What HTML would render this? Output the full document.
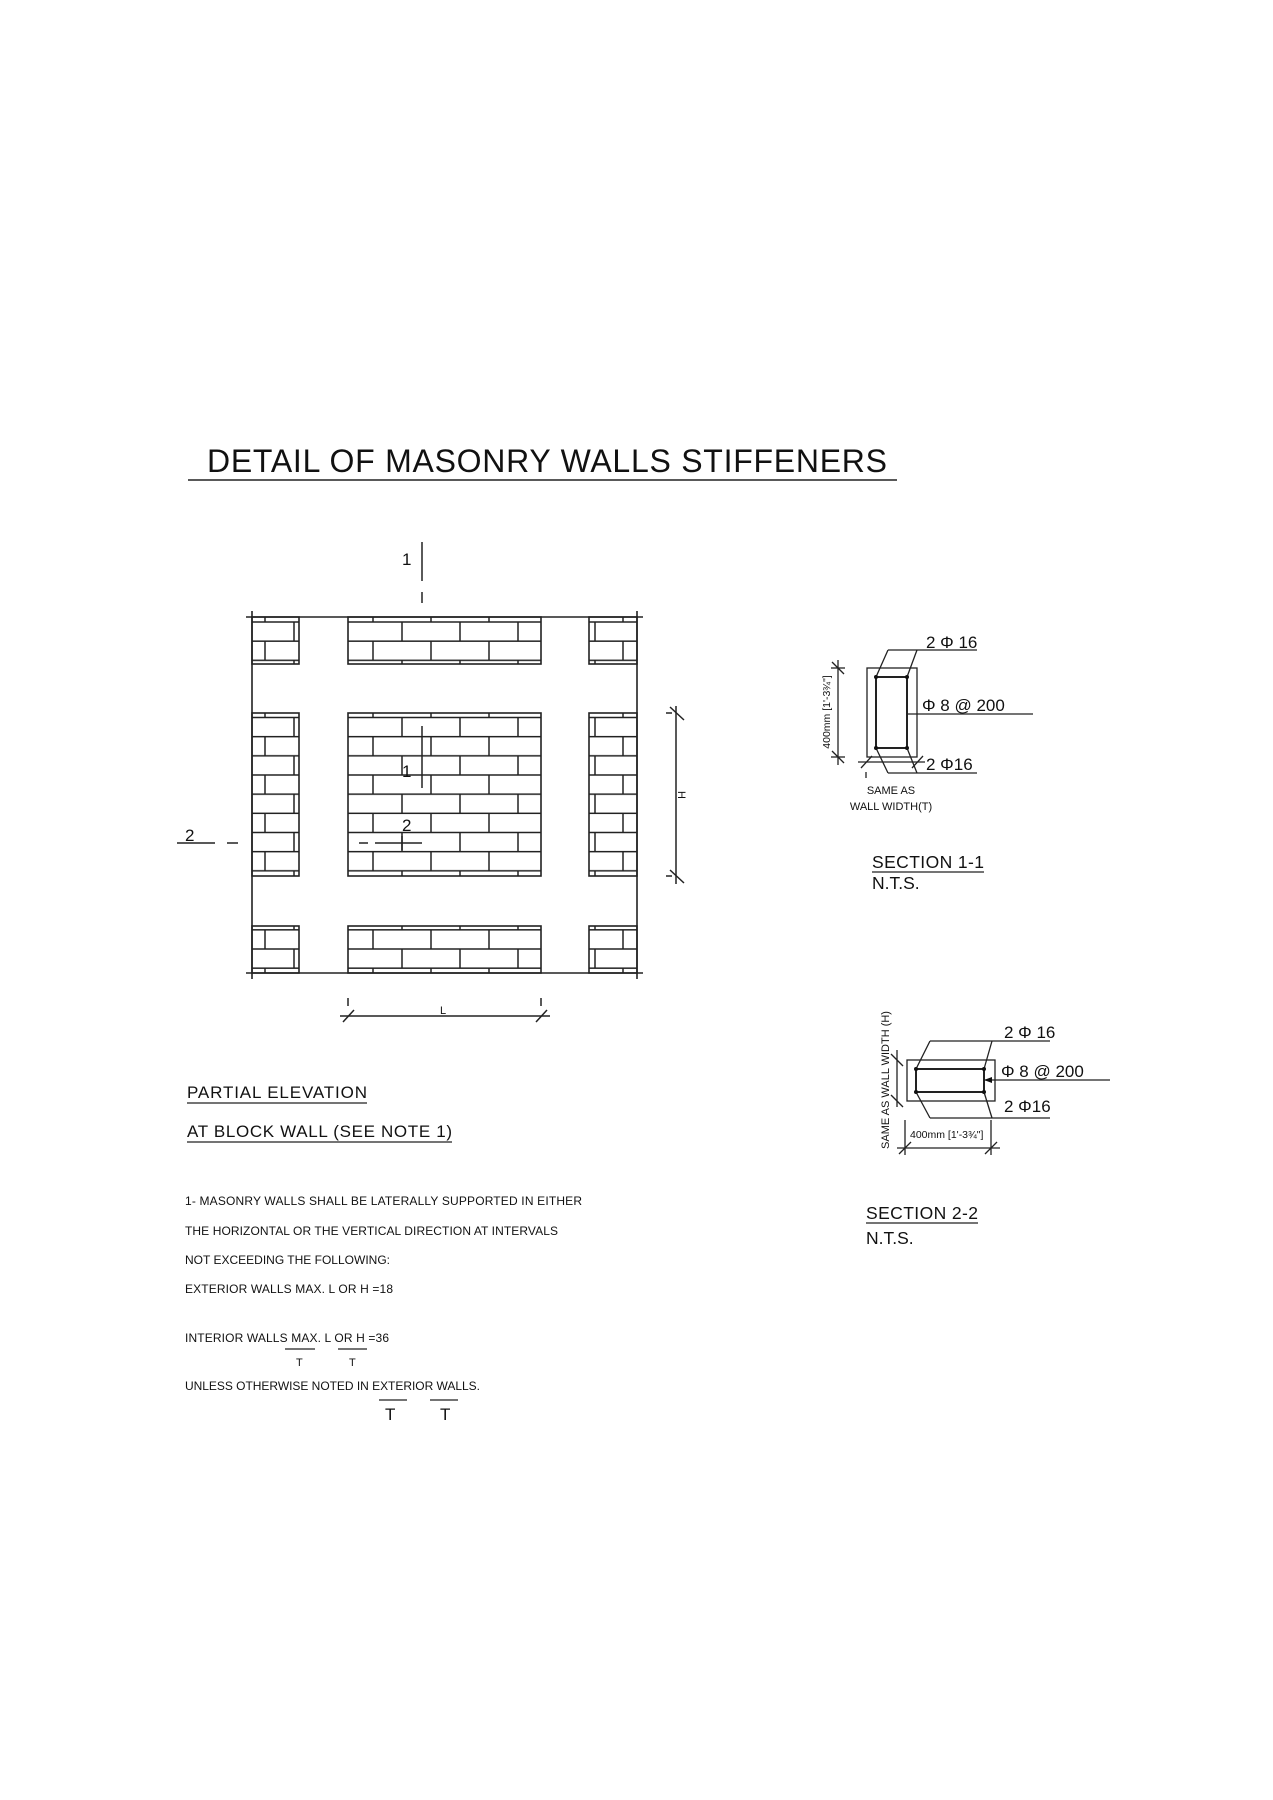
<!DOCTYPE html>
<html><head><meta charset="utf-8"><style>html,body{margin:0;padding:0;background:#fff}svg{display:block}</style></head>
<body>
<svg width="1273" height="1800" viewBox="0 0 1273 1800" xmlns="http://www.w3.org/2000/svg" font-family="Liberation Sans, sans-serif" fill="#111">
<defs>
<pattern id="cT" patternUnits="userSpaceOnUse" x="344" y="622" width="58" height="38.33">
 <g stroke="#222" stroke-width="1.5"><line x1="0" y1="0" x2="58" y2="0"/><line x1="0" y1="38.33" x2="58" y2="38.33"/><line x1="0" y1="19.17" x2="58" y2="19.17"/><line x1="0" y1="0" x2="0" y2="19.17"/><line x1="58" y1="0" x2="58" y2="19.17"/><line x1="29" y1="19.17" x2="29" y2="38.33"/></g></pattern>
<pattern id="cM" patternUnits="userSpaceOnUse" x="344" y="717.5" width="58" height="38.33">
 <g stroke="#222" stroke-width="1.5"><line x1="0" y1="0" x2="58" y2="0"/><line x1="0" y1="38.33" x2="58" y2="38.33"/><line x1="0" y1="19.17" x2="58" y2="19.17"/><line x1="0" y1="0" x2="0" y2="19.17"/><line x1="58" y1="0" x2="58" y2="19.17"/><line x1="29" y1="19.17" x2="29" y2="38.33"/></g></pattern>
<pattern id="cB" patternUnits="userSpaceOnUse" x="344" y="949" width="58" height="38.33">
 <g stroke="#222" stroke-width="1.5"><line x1="0" y1="0" x2="58" y2="0"/><line x1="0" y1="38.33" x2="58" y2="38.33"/><line x1="0" y1="19.17" x2="58" y2="19.17"/><line x1="0" y1="0" x2="0" y2="19.17"/><line x1="58" y1="0" x2="58" y2="19.17"/><line x1="29" y1="19.17" x2="29" y2="38.33"/></g></pattern>
<pattern id="sT" patternUnits="userSpaceOnUse" x="0" y="622" width="1273" height="38.33">
 <g stroke="#222" stroke-width="1.5"><line x1="0" y1="0" x2="1273" y2="0"/><line x1="0" y1="38.33" x2="1273" y2="38.33"/><line x1="0" y1="19.17" x2="1273" y2="19.17"/><line x1="294" y1="0" x2="294" y2="19.17"/><line x1="595" y1="0" x2="595" y2="19.17"/><line x1="265" y1="19.17" x2="265" y2="38.33"/><line x1="623" y1="19.17" x2="623" y2="38.33"/></g></pattern>
<pattern id="sM" patternUnits="userSpaceOnUse" x="0" y="717.5" width="1273" height="38.33">
 <g stroke="#222" stroke-width="1.5"><line x1="0" y1="0" x2="1273" y2="0"/><line x1="0" y1="38.33" x2="1273" y2="38.33"/><line x1="0" y1="19.17" x2="1273" y2="19.17"/><line x1="294" y1="0" x2="294" y2="19.17"/><line x1="595" y1="0" x2="595" y2="19.17"/><line x1="265" y1="19.17" x2="265" y2="38.33"/><line x1="623" y1="19.17" x2="623" y2="38.33"/></g></pattern>
<pattern id="sB" patternUnits="userSpaceOnUse" x="0" y="949" width="1273" height="38.33">
 <g stroke="#222" stroke-width="1.5"><line x1="0" y1="0" x2="1273" y2="0"/><line x1="0" y1="38.33" x2="1273" y2="38.33"/><line x1="0" y1="19.17" x2="1273" y2="19.17"/><line x1="294" y1="0" x2="294" y2="19.17"/><line x1="595" y1="0" x2="595" y2="19.17"/><line x1="265" y1="19.17" x2="265" y2="38.33"/><line x1="623" y1="19.17" x2="623" y2="38.33"/></g></pattern>
</defs>

<text x="207" y="472" font-size="32" textLength="680">DETAIL OF MASONRY WALLS STIFFENERS</text>
<line x1="188" y1="480" x2="897" y2="480" stroke="#222" stroke-width="1.5"/>

<g stroke="#222" stroke-width="1.6">
 <rect x="348" y="617" width="193" height="47" fill="url(#cT)"/>
 <rect x="348" y="713" width="193" height="163" fill="url(#cM)"/>
 <rect x="348" y="926" width="193" height="47" fill="url(#cB)"/>
 <rect x="252" y="617" width="47" height="47" fill="url(#sT)"/>
 <rect x="252" y="713" width="47" height="163" fill="url(#sM)"/>
 <rect x="252" y="926" width="47" height="47" fill="url(#sB)"/>
 <rect x="589" y="617" width="48" height="47" fill="url(#sT)"/>
 <rect x="589" y="713" width="48" height="163" fill="url(#sM)"/>
 <rect x="589" y="926" width="48" height="47" fill="url(#sB)"/>
 <line x1="246" y1="617" x2="643" y2="617"/>
 <line x1="246" y1="973" x2="643" y2="973"/>
 <line x1="252" y1="611" x2="252" y2="979"/>
 <line x1="637" y1="611" x2="637" y2="979"/>
</g>
<g stroke="#222" stroke-width="1.5">
 <line x1="422" y1="542" x2="422" y2="581"/>
 <line x1="422" y1="592" x2="422" y2="603"/>
 <line x1="422" y1="726" x2="422" y2="788"/>
 <line x1="359" y1="843" x2="368" y2="843"/>
 <line x1="375" y1="843" x2="422" y2="843"/>
 <line x1="402" y1="836" x2="402" y2="850"/>
 <line x1="177" y1="843" x2="215" y2="843"/>
 <line x1="227" y1="843" x2="238" y2="843"/>
 <line x1="676" y1="706" x2="676" y2="884"/>
 <line x1="670" y1="707" x2="684" y2="720"/>
 <line x1="670" y1="870" x2="684" y2="883"/>
 <line x1="666" y1="713" x2="672" y2="713"/>
 <line x1="666" y1="876" x2="672" y2="876"/>
 <line x1="340" y1="1016" x2="550" y2="1016"/>
 <line x1="343" y1="1022" x2="354" y2="1010"/>
 <line x1="536" y1="1022" x2="547" y2="1010"/>
 <line x1="348" y1="998" x2="348" y2="1006"/>
 <line x1="541" y1="998" x2="541" y2="1006"/>
</g>
<text x="402" y="565" font-size="17">1</text>
<text x="402" y="777" font-size="17">1</text>
<text x="402" y="831" font-size="17">2</text>
<text x="185" y="841" font-size="17">2</text>
<text x="440" y="1014" font-size="11">L</text>
<text transform="translate(678,795) rotate(90)" font-size="11" text-anchor="middle">H</text>

<text x="187" y="1098" font-size="17" textLength="180">PARTIAL ELEVATION</text>
<line x1="187" y1="1103" x2="367" y2="1103" stroke="#222" stroke-width="1.3"/>
<text x="187" y="1137" font-size="17" textLength="265">AT BLOCK WALL (SEE NOTE 1)</text>
<line x1="187" y1="1142" x2="452" y2="1142" stroke="#222" stroke-width="1.3"/>

<g font-size="12">
<text x="185" y="1205" textLength="397">1-   MASONRY WALLS SHALL BE LATERALLY SUPPORTED IN EITHER</text>
<text x="185" y="1235" textLength="373">THE HORIZONTAL OR THE VERTICAL DIRECTION AT INTERVALS</text>
<text x="185" y="1264" textLength="205">NOT EXCEEDING THE FOLLOWING:</text>
<text x="185" y="1293" textLength="208">EXTERIOR WALLS MAX. L  OR H =18</text>
<text x="185" y="1342" textLength="204">INTERIOR WALLS MAX. L  OR H =36</text>
<text x="296" y="1366" font-size="11">T</text>
<text x="349" y="1366" font-size="11">T</text>
<text x="185" y="1390" textLength="295">UNLESS OTHERWISE NOTED IN EXTERIOR WALLS.</text>
<text x="385" y="1420" font-size="17">T</text>
<text x="440" y="1420" font-size="17">T</text>
</g>
<g stroke="#222" stroke-width="1.2">
<line x1="285" y1="1349" x2="315" y2="1349"/><line x1="338" y1="1349" x2="367" y2="1349"/>
<line x1="379" y1="1400" x2="407" y2="1400"/><line x1="430" y1="1400" x2="458" y2="1400"/>
</g>

<g stroke="#222" stroke-width="1.3" fill="none">
 <rect x="867" y="668" width="50" height="89"/>
 <rect x="876" y="677" width="31" height="71" stroke-width="2"/>
 <line x1="888" y1="650" x2="977" y2="650"/><line x1="876" y1="677" x2="888" y2="650"/><line x1="907" y1="677" x2="917" y2="650"/>
 <line x1="907" y1="714" x2="1033" y2="714"/>
 <line x1="888" y1="773" x2="977" y2="773"/><line x1="876" y1="748" x2="888" y2="773"/><line x1="907" y1="748" x2="917" y2="773"/>
 <line x1="838" y1="660" x2="838" y2="765"/>
 <line x1="831" y1="668" x2="845" y2="668"/><line x1="831" y1="757" x2="845" y2="757"/>
 <line x1="832" y1="662" x2="844" y2="674"/><line x1="832" y1="751" x2="844" y2="763"/>
 <line x1="858" y1="762" x2="925" y2="762"/>
 <line x1="861" y1="768" x2="872" y2="756"/><line x1="912" y1="768" x2="923" y2="756"/>
 <line x1="866" y1="772" x2="866" y2="778"/>
</g>
<g fill="#111"><circle cx="876" cy="677" r="2"/><circle cx="907" cy="677" r="2"/><circle cx="876" cy="748" r="2"/><circle cx="907" cy="748" r="2"/></g>
<text x="926" y="648" font-size="17">2 Φ 16</text>
<text x="922" y="711" font-size="17">Φ 8   @ 200</text>
<text x="926" y="770" font-size="17">2 Φ16</text>
<text transform="translate(830,712) rotate(-90)" font-size="10.5" text-anchor="middle">400mm [1'-3¾"]</text>
<text x="891" y="794" font-size="11" text-anchor="middle">SAME AS</text>
<text x="891" y="810" font-size="11" text-anchor="middle">WALL WIDTH(T)</text>
<text x="872" y="868" font-size="17.5" textLength="112">SECTION 1-1</text>
<line x1="872" y1="872" x2="984" y2="872" stroke="#222" stroke-width="1.3"/>
<text x="872" y="889" font-size="17.5">N.T.S.</text>

<g stroke="#222" stroke-width="1.3" fill="none">
 <rect x="907" y="1060" width="88" height="41"/>
 <rect x="916" y="1069" width="68" height="23" stroke-width="2"/>
 <line x1="930" y1="1041" x2="1050" y2="1041"/><line x1="916" y1="1069" x2="930" y2="1041"/><line x1="984" y1="1069" x2="992" y2="1041"/>
 <line x1="984" y1="1080" x2="1110" y2="1080"/>
 <line x1="930" y1="1118" x2="1050" y2="1118"/><line x1="916" y1="1092" x2="930" y2="1118"/><line x1="984" y1="1092" x2="992" y2="1118"/>
 <line x1="897" y1="1050" x2="897" y2="1107"/>
 <line x1="891" y1="1054" x2="903" y2="1066"/><line x1="891" y1="1095" x2="903" y2="1107"/>
 <line x1="897" y1="1148" x2="1000" y2="1148"/>
 <line x1="905" y1="1120" x2="905" y2="1155"/><line x1="991" y1="1120" x2="991" y2="1155"/>
 <line x1="899" y1="1154" x2="911" y2="1142"/><line x1="985" y1="1154" x2="997" y2="1142"/>
</g>
<polygon points="984,1080 992,1077 992,1083" fill="#111"/>
<g fill="#111"><circle cx="916" cy="1069" r="2"/><circle cx="984" cy="1069" r="2"/><circle cx="916" cy="1092" r="2"/><circle cx="984" cy="1092" r="2"/></g>
<text x="1004" y="1038" font-size="17">2 Φ 16</text>
<text x="1001" y="1077" font-size="17">Φ  8   @ 200</text>
<text x="1004" y="1112" font-size="17">2 Φ16</text>
<text transform="translate(889,1080) rotate(-90)" font-size="11" text-anchor="middle">SAME AS WALL WIDTH (H)</text>
<text x="910" y="1138" font-size="10.5">400mm [1'-3¾"]</text>
<text x="866" y="1219" font-size="17.5" textLength="112">SECTION 2-2</text>
<line x1="866" y1="1223" x2="978" y2="1223" stroke="#222" stroke-width="1.3"/>
<text x="866" y="1244" font-size="17.5">N.T.S.</text>
</svg>
</body></html>
